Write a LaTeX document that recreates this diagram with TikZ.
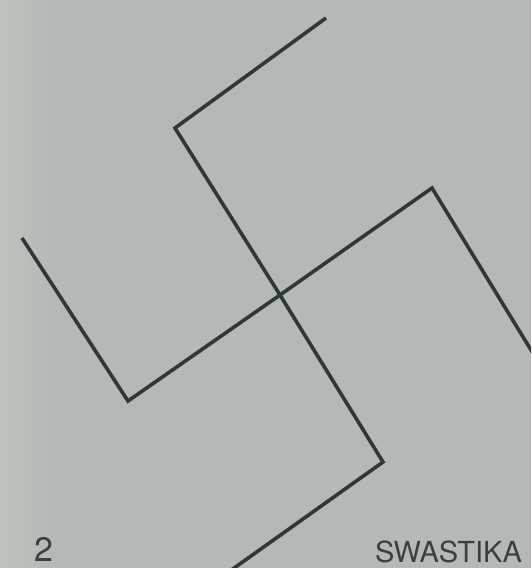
\documentclass[tikz,border=0pt]{standalone}
\usepackage{fontspec}
\setmainfont{TeX Gyre Heros}
\usetikzlibrary{calc}
\begin{document}
\begin{tikzpicture}[x=1pt,y=-1pt,
  arm/.style={draw=symcol,line width=3.6pt,line join=miter,line cap=butt},
  lbl/.style={inner sep=0pt,anchor=base west,text=txtcol}]
\definecolor{bgcol}{HTML}{B4B9B6}
\definecolor{bgleft}{HTML}{BFC3BE}
\definecolor{symcol}{HTML}{2E3935}
\definecolor{txtcol}{HTML}{3A403D}
\useasboundingbox (0,0) rectangle (531,568);
\clip (0,0) rectangle (531,568);
\fill[bgcol] (0,0) rectangle (531,568);
\shade[left color=bgleft,right color=bgcol] (0,0) rectangle (50,568);
\coordinate (c) at (280,295);
\coordinate (a1) at (175,128);
\coordinate (a2) at (326,18);
\coordinate (b1) at (432,188);
\coordinate (b2) at (531,350);
\coordinate (d1) at (383,462);
\coordinate (d2) at (237,566);
\coordinate (e1) at (128,401);
\coordinate (e2) at (22,238);
\draw[arm] (c) -- (a1) -- (a2);
\draw[arm] (c) -- (b1) -- ($(b1)!1.03!(b2)$);
\draw[arm] (c) -- (d1) -- ($(d1)!1.05!(d2)$);
\draw[arm] (c) -- (e1) -- (e2);
\node[lbl,font=\fontsize{34}{34}\selectfont] (num) at (34,561) {2};
\node[lbl,font=\fontsize{29}{29}\selectfont] (name) at (375,562) {SWASTIKA};
\end{tikzpicture}
\end{document}
